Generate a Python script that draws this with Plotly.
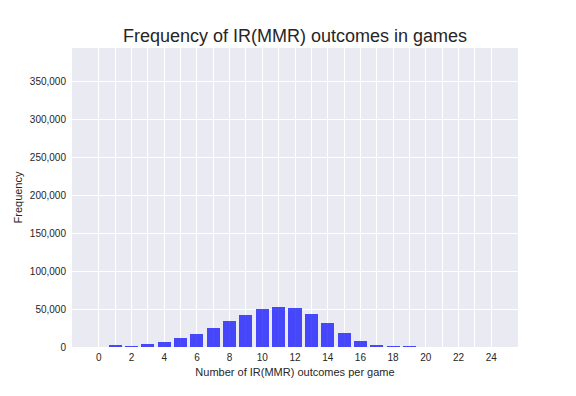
import plotly.graph_objects as go

outcomes = list(range(0, 25))
frequency = [0, 2650, 1300, 4000, 6600, 11900, 17300, 25200, 34500, 42500,
             50400, 53100, 51800, 43800, 31900, 18600, 8000, 2650, 1300, 1300,
             0, 0, 0, 0, 0]
x_tick_vals = list(range(0, 25))
x_tick_text = [str(v) if v % 2 == 0 else "" for v in x_tick_vals]
y_tick_vals = [0, 50000, 100000, 150000, 200000, 250000, 300000, 350000]
y_tick_text = ["0", "50,000", "100,000", "150,000", "200,000", "250,000", "300,000", "350,000"]

font_family = "Liberation Sans, Arial, sans-serif"
text_color = "#262626"

fig = go.Figure()
fig.add_trace(go.Bar(
    x=outcomes, y=frequency, width=0.8,
    marker=dict(color="rgba(0,0,255,0.7)", line=dict(width=0)),
))

fig.update_layout(
    width=576, height=396,
    margin=dict(l=72, r=58, t=48, b=49),
    paper_bgcolor="white",
    plot_bgcolor="#EAEAF2",
    showlegend=False,
    bargap=0,
    font=dict(family=font_family, color=text_color, size=10),
    title=dict(
        text="Frequency of IR(MMR) outcomes in games",
        x=(72 + 518) / 2 / 576, xanchor="center",
        y=1 - 36 / 396, yanchor="middle", yref="container",
        font=dict(size=18, color=text_color, family=font_family),
    ),
    xaxis=dict(
        range=[-1.64, 25.64],
        tickvals=x_tick_vals, ticktext=x_tick_text,
        showgrid=True, gridcolor="white", gridwidth=1,
        zeroline=False, showline=False, ticks="",
        automargin=False, ticklabelstandoff=3,
        tickfont=dict(size=10, color=text_color),
        title=dict(text="Number of IR(MMR) outcomes per game",
                   font=dict(size=11, color=text_color), standoff=6),
    ),
    yaxis=dict(
        range=[0, 394000],
        tickvals=y_tick_vals, ticktext=y_tick_text,
        showgrid=True, gridcolor="white", gridwidth=1,
        zeroline=False, showline=False, ticks="",
        automargin=False, ticklabelstandoff=5,
        tickfont=dict(size=10, color=text_color),
        title=dict(text="Frequency", font=dict(size=11, color=text_color), standoff=4),
    ),
)

fig.write_html("out.html", config={"displayModeBar": False},
               post_script="document.body.style.margin='0';")
